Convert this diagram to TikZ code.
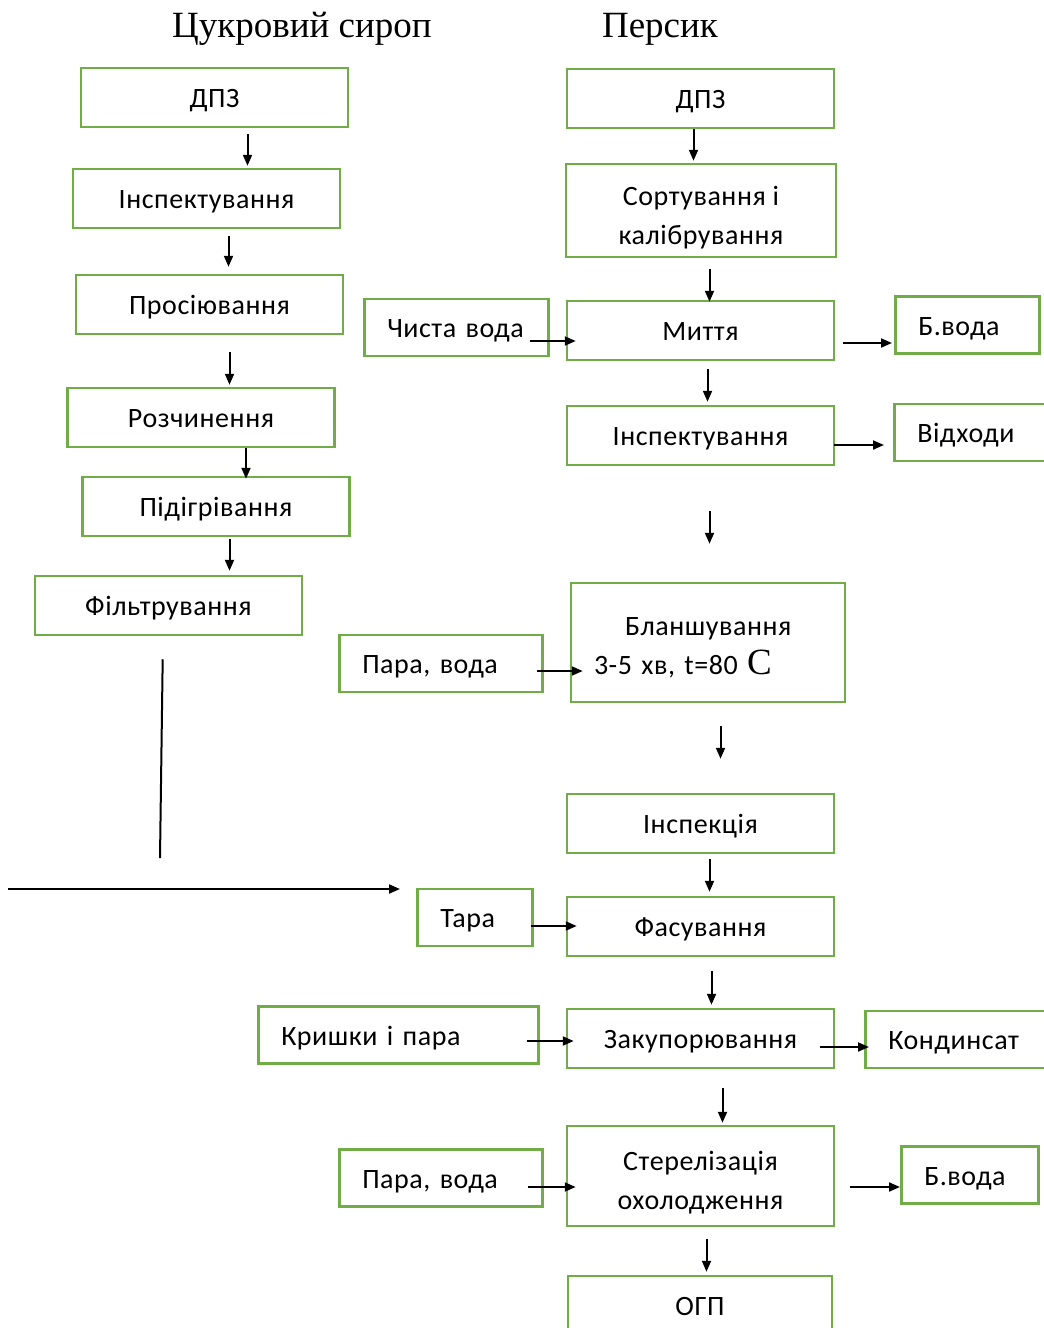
\documentclass[tikz,border=0pt]{standalone}
\usepackage{fontspec}
\setmainfont[LetterSpace=2]{Carlito}
\newfontfamily\titlefont{Liberation Serif}
\usetikzlibrary{arrows.meta}
\definecolor{boxgreen}{HTML}{70AD47}
\newcommand{\topgap}{\rule{0pt}{33pt}}

\tikzset{
  box/.style={draw=boxgreen, line width=2.5pt, text=black},
  stage/.style={box, minimum width=267pt, minimum height=59pt, inner sep=0pt, align=center},
  oneline/.style={text height=22pt, text depth=2pt},
  side/.style={box, oneline, anchor=west, align=left, inner xsep=23pt, inner ysep=0pt, minimum height=57pt},
  arr/.style={line width=2pt, -{Triangle[length=11pt,width=9pt]}},
  plain/.style={line width=2pt},
  title/.style={font=\titlefont\fontsize{37}{40}\selectfont}
}

\begin{document}
\begin{tikzpicture}[x=1pt, y=-1pt, font=\fontsize{28}{39}\selectfont]
  \useasboundingbox (0,0) rectangle (1044,1328);
  \clip (0,0) rectangle (1044,1328);

  % titles
  \node[title] (tsyrup) at (302,29) {Цукровий сироп};
  \node[title] (tpeach) at (660,29) {Персик};

  % syrup line
  \node[stage, oneline] (sdpz) at (214.5,97.5) {ДПЗ};
  \node[stage, oneline] (sinsp) at (206.5,198.5) {Інспектування};
  \node[stage, oneline] (sieve) at (209.5,304.5) {Просіювання};
  \node[stage, oneline] (dissolve) at (201,417.5) {Розчинення};
  \node[stage, oneline] (heat) at (216,506.5) {Підігрівання};
  \node[stage, oneline] (filt) at (168.5,605.5) {Фільтрування};

  % peach line
  \node[stage, oneline] (pdpz) at (700.5,98.5) {ДПЗ};
  \node[stage, minimum width=270pt, minimum height=93pt] (sort) at (701,210.5) {\topgap Сортування і\\калібрування};
  \node[stage, oneline] (wash) at (700.5,330.5) {Миття};
  \node[stage, oneline] (pinsp) at (700.5,435.5) {Інспектування};
  \node[box, minimum height=119pt, text width=228pt, inner xsep=23pt, inner ysep=0pt, align=left] (blanch) at (708,642.5)
    {\rule{0pt}{28pt}\hspace*{31pt}Бланшування\\3-5 хв, t=80 {\titlefont\fontsize{37}{39}\selectfont C}};
  \node[stage, oneline] (insp2) at (700.5,823.5) {Інспекція};
  \node[stage, oneline] (pack) at (700.5,926.5) {Фасування};
  \node[stage, oneline] (seal) at (700.5,1038.5) {Закупорювання};
  \node[stage, minimum height=100pt] (steril) at (700.5,1176) {\topgap Стерелізація\\охолодження};
  \node[stage, oneline, minimum width=264pt] (ogp) at (700,1305.5) {ОГП};

  % inputs and outputs
  \node[side, text width=138pt] (water) at (363,327.5) {Чиста вода};
  \node[side, text width=98pt] (bwater) at (894,325) {Б.вода};
  \node[side, text width=124pt] (waste) at (893,432.5) {Відходи};
  \node[side, text width=157pt] (steam) at (338,663.5) {Пара, вода};
  \node[side, text width=69pt] (tara) at (416,917.5) {Тара};
  \node[side, text width=234pt] (lids) at (257,1035) {Кришки і пара};
  \node[side, text width=150pt] (cond) at (864,1039.5) {Кондинсат};
  \node[side, text width=157pt] (steamb) at (338,1178) {Пара, вода};
  \node[side, text width=91pt] (bwaterb) at (900,1175) {Б.вода};

  % down arrows
  \foreach \a/\b/\x/\s/\e in {sdpz/sinsp/247.5/6/2, sinsp/sieve/228.5/7/7, sieve/dissolve/229.5/17/2,
      dissolve/heat/246/0/-3, heat/filt/229.5/2/4, pdpz/sort/693.5/0/2, sort/wash/709.5/11/-2,
      wash/pinsp/707.5/8/3, pinsp/blanch/709.5/45/38, blanch/insp2/720.5/23/34, insp2/pack/709.5/5/4,
      pack/seal/711.5/14/3, seal/steril/722.5/19/2, steril/ogp/706.5/12/3}
    \draw[arr, shorten <=\s pt, shorten >=\e pt] (\a.south -| \x,0) -- (\b.north -| \x,0);

  % side arrows
  \foreach \a/\b/\y/\s/\e in {water/wash/341/-20/-10, wash/bwater/343/8/2, pinsp/waste/445/-1/9,
      steam/blanch/671/-7/-13, tara/pack/926/-3/-11, lids/seal/1041/-13/-8, seal/cond/1047/-15/-5,
      steamb/steril/1187/-16/-10, steril/bwaterb/1187/15/0}
    \draw[arr, shorten <=\s pt, shorten >=\e pt] (\a.east |- 0,\y) -- (\b.west |- 0,\y);

  % syrup to tara
  \coordinate (lend) at (160,858);
  \coordinate (lstart) at (8,889);
  \draw[plain, shorten <=23pt] (filt.south -| 163,0) -- (lend);
  \draw[arr, shorten >=16pt] (lstart) -- (tara.west |- 0,889);
\end{tikzpicture}
\end{document}
